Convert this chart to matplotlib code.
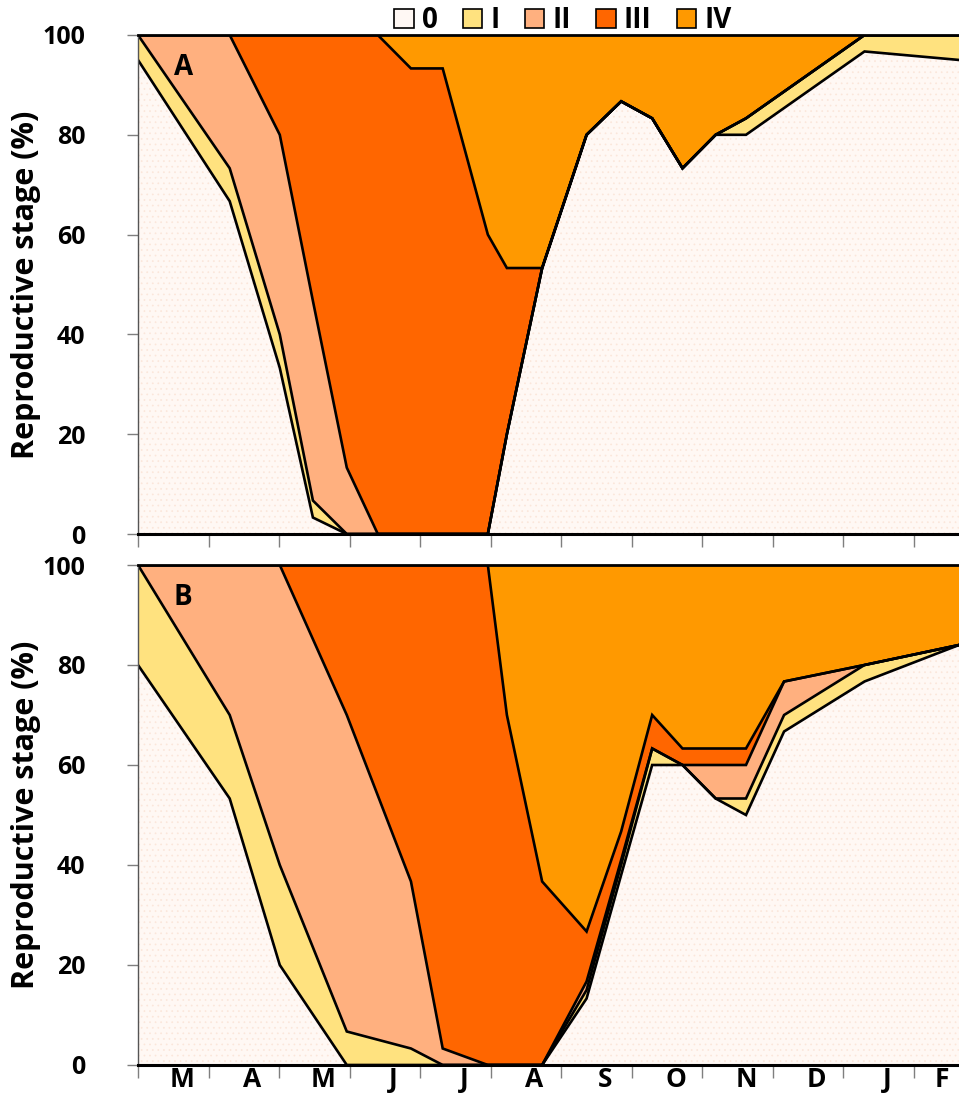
import matplotlib
matplotlib.use('Agg')
import matplotlib.pyplot as plt
from matplotlib.patches import Patch
import numpy as np

plt.rcParams['font.family'] = ['Open Sans', 'DejaVu Sans']
plt.rcParams['font.weight'] = 'bold'
plt.rcParams['hatch.linewidth'] = 0.5

# sampling times, in months counted from 1 March
months_a = [0, 1.30, 2.01, 2.48, 2.96, 3.40, 3.87, 4.32, 4.96, 5.23, 5.73,
            6.36, 6.85, 7.29, 7.72, 8.19, 8.62, 10.30, 11.64]
months_b = [0, 1.30, 2.01, 2.96, 3.87, 4.32, 4.96, 5.23, 5.73,
            6.36, 6.85, 7.29, 7.72, 8.19, 8.62, 9.16, 10.30, 11.64]

# cumulative percentage (top of stage 0, I, II, III; IV fills up to 100)
a_0 = [95, 66.7, 33.3, 3.3, 0, 0, 0, 0, 0, 20, 53.3, 80, 86.7, 83.3, 73.3, 80, 80, 96.7, 95]
a_1 = [100, 73.3, 40, 6.7, 0, 0, 0, 0, 0, 20, 53.3, 80, 86.7, 83.3, 73.3, 80, 83.3, 100, 100]
a_2 = [100, 100, 80, 46.7, 13.3, 0, 0, 0, 0, 20, 53.3, 80, 86.7, 83.3, 73.3, 80, 83.3, 100, 100]
a_3 = [100, 100, 100, 100, 100, 100, 93.3, 93.3, 60, 53.3, 53.3, 80, 86.7, 83.3, 73.3, 80, 83.3, 100, 100]

b_0 = [80, 53.3, 20, 0, 0, 0, 0, 0, 0, 13.3, 38, 60, 60, 53.3, 50, 66.7, 76.7, 84]
b_1 = [100, 70, 40, 6.7, 3.3, 0, 0, 0, 0, 15, 40, 63.3, 60, 53.3, 53.3, 70, 80, 84]
b_2 = [100, 100, 100, 70, 36.7, 3.3, 0, 0, 0, 16.7, 41, 63.3, 60, 60, 60, 76.7, 80, 84]
b_3 = [100, 100, 100, 100, 100, 100, 100, 70, 36.7, 26.7, 46.7, 70, 63.3, 63.3, 63.3, 76.7, 80, 84]

stages = ['0', 'I', 'II', 'III', 'IV']
colors = ['#FFF8F4', '#FFE27F', '#FFB07F', '#FF6600', '#FF9900']
month_labels = ['M', 'A', 'M', 'J', 'J', 'A', 'S', 'O', 'N', 'D', 'J', 'F']
x_end = 11.64


def draw_panel(ax, x, tops, letter, show_labels):
    x = np.array(x)
    bounds = [np.zeros(len(x))] + [np.array(t, float) for t in tops] + [np.full(len(x), 100.0)]
    for i in range(5):
        if i == 0:
            ax.fill_between(x, bounds[0], bounds[1], facecolor=colors[0],
                            edgecolor='#FBE6DA', hatch='...', linewidth=0)
        else:
            ax.fill_between(x, bounds[i], bounds[i + 1], facecolor=colors[i],
                            linewidth=0)
    for t in bounds[1:5]:
        ax.plot(x, t, color='black', lw=1.9, solid_joinstyle='miter')

    ax.set_xlim(0, x_end)
    ax.set_ylim(0, 100)
    ax.set_yticks(np.arange(0, 101, 20))
    ax.set_xticks(np.arange(0, 12))
    ax.set_xticklabels([])
    ax.set_xticks([min(i + 0.62, 11.4) for i in range(12)], minor=True)
    if show_labels:
        ax.set_xticklabels(month_labels, minor=True)
    else:
        ax.set_xticklabels([], minor=True)
    ax.tick_params(axis='x', which='minor', length=0, labelsize=19, pad=1)
    ax.tick_params(axis='x', which='major', length=9, width=1, color='#7f7f7f',
                   direction='out')
    ax.tick_params(axis='y', length=8, width=1, color='#7f7f7f', labelsize=18, pad=30)
    ax.set_ylabel('Reproductive stage (%)', fontsize=22, fontweight='bold')
    ax.yaxis.set_label_coords(-0.118, 0.5)
    ax.spines['right'].set_visible(False)
    ax.spines['left'].set_color('#555555')
    ax.spines['left'].set_linewidth(1)
    ax.spines['bottom'].set_linewidth(2.2)
    ax.spines['top'].set_linewidth(2)
    ax.text(0.055, 0.935, letter, transform=ax.transAxes, fontsize=20,
            fontweight='bold', ha='center', va='center')


fig = plt.figure(figsize=(9.59, 10.99), dpi=100)
ax_a = fig.add_axes([138 / 959, 1 - 534 / 1099, 1 - 138 / 959, 499 / 1099])
ax_b = fig.add_axes([138 / 959, 1 - 1065 / 1099, 1 - 138 / 959, 500 / 1099])

draw_panel(ax_a, months_a, [a_0, a_1, a_2, a_3], 'A', False)
draw_panel(ax_b, months_b, [b_0, b_1, b_2, b_3], 'B', True)

handles = [Patch(facecolor=c, edgecolor='black', linewidth=1.2) for c in colors]
fig.legend(handles, stages, loc='upper center', bbox_to_anchor=(0.587, 1.017),
           ncol=5, frameon=False, handlelength=0.7, handleheight=0.7,
           handletextpad=0.3, columnspacing=0.9, prop={'weight': 'bold', 'size': 20})

fig.savefig('out.png', dpi=100)
